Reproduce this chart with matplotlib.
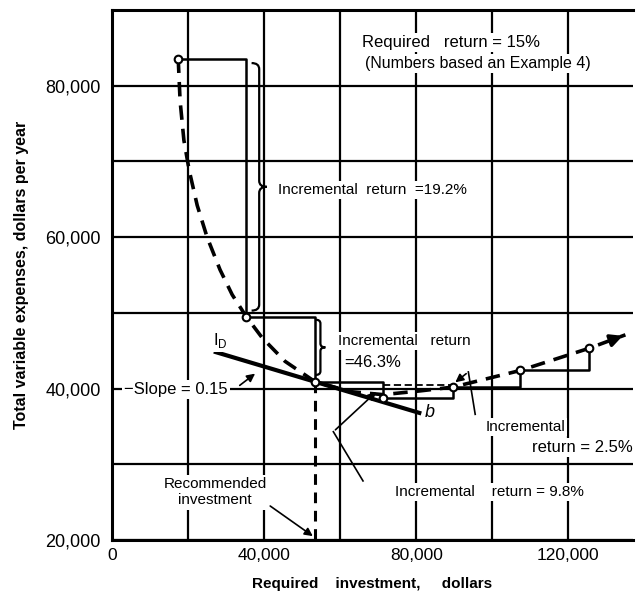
import numpy as np
import matplotlib.pyplot as plt
from matplotlib.path import Path
from matplotlib.patches import PathPatch

plt.rcParams['font.family'] = ['Liberation Sans', 'DejaVu Sans']

# alternatives (open circles), dollars
INV = [17400, 35300, 53400, 71300, 89700, 107400, 125300]
COST = [83600, 49500, 40900, 38800, 40200, 42400, 45300]

# dashed cost curve (last point = arrow tip)
CURVE_INV = [17400, 17900, 18900, 20300, 22400, 25000, 28400, 31600, 35300,
             39500, 45500, 53400, 62600, 71300, 81100, 89700, 107400, 125300, 135000]
CURVE_COST = [83600, 78000, 72800, 68800, 64200, 60000, 55700, 52400, 49500,
              46700, 43600, 40900, 39600, 39200, 39700, 40200, 42400, 45300, 47100]

SLOPE = -0.15
TANGENT_X = [27300, 80800]
RECOMMENDED = 53400

XTICKS = [0, 40000, 80000, 120000]
XTICKLABELS = ['0', '40,000', '80,000', '120,000']
YTICKS = [20000, 40000, 60000, 80000]
YTICKLABELS = ['20,000', '40,000', '60,000', '80,000']

LW_GRID = 1.6
FS = 11
BOX = dict(fc='white', ec='none', pad=1.5)


def brace(ax, x, ytop, ybot, dx, dy, lw=1.6):
    ym = (ytop + ybot) / 2
    xm = x + dx / 2
    verts = [(x, ytop),
             (xm, ytop), (xm, ytop - dy),
             (xm, ym + dy),
             (xm, ym), (x + dx, ym),
             (xm, ym), (xm, ym - dy),
             (xm, ybot + dy),
             (xm, ybot), (x, ybot)]
    codes = [Path.MOVETO,
             Path.CURVE3, Path.CURVE3,
             Path.LINETO,
             Path.CURVE3, Path.CURVE3,
             Path.CURVE3, Path.CURVE3,
             Path.LINETO,
             Path.CURVE3, Path.CURVE3]
    ax.add_patch(PathPatch(Path(verts, codes), fill=False, lw=lw, color='k', zorder=5))


def label(ax, x, y, s, **kw):
    kw.setdefault('fontsize', FS)
    kw.setdefault('va', 'center')
    ax.text(x, y, s, bbox=BOX, zorder=7, **kw)


fig = plt.figure(figsize=(6.42, 5.93), dpi=100)
ax = fig.add_axes([0.1745, 0.0894, 0.8115, 0.8936])
ax.set_xlim(0, 137000)
ax.set_ylim(20000, 90000)

# grid
ax.set_xticks(XTICKS)
ax.set_xticklabels(XTICKLABELS, fontsize=12.5)
ax.set_xticks(np.arange(20000, 137000, 40000), minor=True)
ax.set_yticks(YTICKS)
ax.set_yticklabels(YTICKLABELS, fontsize=13)
ax.set_yticks([30000, 50000, 70000], minor=True)
ax.grid(True, which='both', color='k', lw=LW_GRID)
ax.tick_params(which='both', length=0)
ax.tick_params(axis='y', pad=8)
ax.tick_params(axis='x', pad=6)
ax.spines['right'].set_visible(False)
for s in ['left', 'top', 'bottom']:
    ax.spines[s].set_linewidth(2.2)

# incremental steps
for i in range(len(INV) - 1):
    ax.plot([INV[i], INV[i + 1], INV[i + 1]], [COST[i], COST[i], COST[i + 1]],
            color='k', lw=1.8, zorder=3)
ax.plot([INV[3], INV[4]], [40500, 40500], color='k', lw=1.3, ls=(0, (4, 2)), zorder=3)

# dashed cost curve with arrow
ax.plot(CURVE_INV, CURVE_COST, color='k', lw=2.6, ls=(0, (4, 2.5)), zorder=4)
ax.annotate('', xy=(CURVE_INV[-1], CURVE_COST[-1]),
            xytext=(CURVE_INV[-1] - 3000, CURVE_COST[-1] - 560),
            arrowprops=dict(arrowstyle='-|>', color='k', lw=2.5, mutation_scale=18))

# tangent line
ty = [COST[2] + SLOPE * (x - INV[2]) for x in TANGENT_X]
ax.plot(TANGENT_X, ty, color='k', lw=3, zorder=4)
label(ax, TANGENT_X[0] - 800, ty[0] + 1500, 'I$_\\mathregular{D}$', fontsize=12)
label(ax, TANGENT_X[1] + 1500, ty[1], 'b', fontsize=13, style='italic')

# recommended investment vertical
ax.plot([RECOMMENDED, RECOMMENDED], [COST[2], 20000], color='k', lw=2.2,
        ls=(0, (3.5, 2.5)), zorder=4)

# points
ax.plot(INV, COST, 'o', ms=5.5, mfc='white', mec='k', mew=1.5, zorder=6)

# braces
brace(ax, 36700, 83000, 50300, 4000, 800)
brace(ax, 53500, 49100, 41800, 2600, 500)

# texts
label(ax, 65800, 85700, 'Required   return = 15%', fontsize=12)
label(ax, 66600, 82900, '(Numbers based an Example 4)', fontsize=11.5)
label(ax, 43700, 66200, 'Incremental  return  =19.2%')
label(ax, 59500, 46300, 'Incremental   return')
label(ax, 61000, 43500, '=46.3%', fontsize=12)
label(ax, 98200, 34900, 'Incremental')
label(ax, 136800, 32200, 'return = 2.5%', fontsize=12, ha='right')
label(ax, 74500, 26300, 'Incremental    return = 9.8%')
label(ax, 16800, 39900, '\u2212Slope = 0.15', fontsize=12, ha='center')
label(ax, 27100, 26300, 'Recommended\ninvestment', ha='center', linespacing=1.2)

# leaders
ax.annotate('', xy=(38200, 42200), xytext=(33000, 40200),
            arrowprops=dict(arrowstyle='-|>', color='k', lw=1.2, mutation_scale=12))
ax.plot([95500, 93700], [36600, 42200], color='k', lw=1.2)
ax.annotate('', xy=(89700, 40600), xytext=(93700, 42200),
            arrowprops=dict(arrowstyle='-|>', color='k', lw=1.2, mutation_scale=12))
ax.plot([66000, 58200], [27800, 34300], color='k', lw=1.2)
ax.annotate('', xy=(70000, 39800), xytext=(58200, 34300),
            arrowprops=dict(arrowstyle='-|>', color='k', lw=1.2, mutation_scale=12))
ax.annotate('', xy=(RECOMMENDED, 20300), xytext=(41000, 24700),
            arrowprops=dict(arrowstyle='-|>', color='k', lw=1.2, mutation_scale=12))

ax.set_ylabel('Total variable expenses, dollars per year', fontsize=11.5,
              fontweight='bold', labelpad=12)
ax.set_xlabel('Required    investment,     dollars', fontsize=11,
              fontweight='bold', labelpad=10)

fig.savefig('out.png', dpi=100)
